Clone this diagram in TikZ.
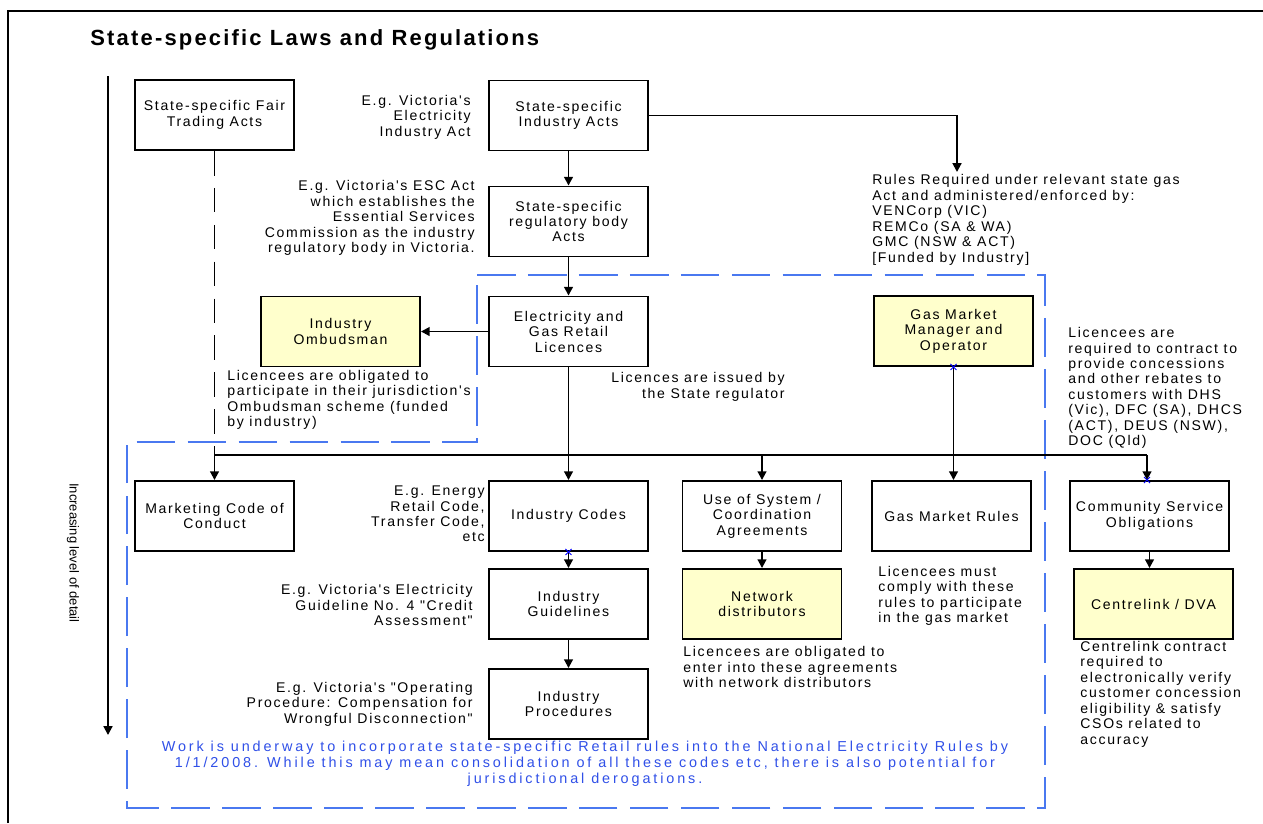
\documentclass[tikz,border=0pt]{standalone}
\usepackage{fontspec}
\setmainfont{Liberation Sans}
\newfontfamily\notefont{Liberation Sans}[LetterSpace=12]
\newfontfamily\headfont{Liberation Sans}[LetterSpace=10]
\newfontfamily\workfont{Liberation Sans}[LetterSpace=20]
\usetikzlibrary{arrows.meta}
\definecolor{boxyellow}{HTML}{FFFFCC}
\definecolor{dashblue}{HTML}{4A78F0}
\definecolor{textblue}{HTML}{3050E8}

\begin{document}
\begin{tikzpicture}[x=0.02cm,y=-0.02cm,
    every node/.style={font=\notefont\fontsize{8}{8.8}\selectfont,inner sep=0pt},
    box/.style={draw,line width=1.1pt,fill=white,align=center,minimum width=3.18cm,minimum height=1.4cm},
    ybox/.style={box,fill=boxyellow},
    noteL/.style={anchor=west,align=left},
    noteR/.style={anchor=east,align=right},
    arr/.style={line width=1.1pt,-{Triangle[length=5pt,width=5pt]}},
    link/.style={line width=1.1pt},
    gapline/.style={line width=1.1pt,dash pattern=on 14pt off 7pt},
    region/.style={dashblue,line width=1.1pt,dash pattern=on 22pt off 7pt}]
    \useasboundingbox (0,0) rectangle (1263,823);
    \fill[white] (0,0) rectangle (1263,823);
    % frame and title
    \draw[line width=1pt] (8,823) -- (8,11) -- (1263,11);
    \node[anchor=west,font=\headfont\bfseries\fontsize{12.5}{14}\selectfont] (title) at (90,40) {State-specific Laws and Regulations};
    % level of detail
    \coordinate (lvtop) at (108,76);
    \coordinate (lvbot) at (108,735);
    \draw[arr] (lvtop) -- (lvbot);
    \node[rotate=-90,font=\fontsize{7.4}{8}\selectfont] (detail) at (73,553) {Increasing level of detail};
    % blue dashed region
    \draw[region] (477,275) -- (1045,275) -- (1045,808) -- (127,808) -- (127,442) -- (477,442) -- cycle;
    % boxes
    \node[box] (fair) at (214.5,115) {State-specific Fair\\Trading Acts};
    \node[box] (indacts) at (568.5,115.5) {State-specific\\Industry Acts};
    \node[box] (regacts) at (568.5,221.5) {State-specific\\regulatory body\\Acts};
    \node[box] (lic) at (568.5,331.5) {Electricity and\\Gas Retail\\Licences};
    \node[ybox] (ombud) at (340.5,331.5) {Industry\\Ombudsman};
    \node[ybox] (gmmo) at (953.5,331) {Gas Market\\Manager and\\Operator};
    \node[box] (mcc) at (214.5,516) {Marketing Code of\\Conduct};
    \node[box] (codes) at (568.5,516) {Industry Codes};
    \node[box] (guide) at (568.5,604) {Industry\\Guidelines};
    \node[box] (proc) at (568.5,704) {Industry\\Procedures};
    \node[box] (uos) at (762,516) {Use of System /\\Coordination\\Agreements};
    \node[ybox] (netd) at (762,604) {Network\\distributors};
    \node[box] (gmr) at (951.5,516) {Gas Market Rules};
    \node[box] (cso) at (1149.5,516) {Community Service\\Obligations};
    \node[ybox] (centre) at (1153.5,604) {Centrelink / DVA};
    % notes
    \node[noteR] (egind) at (471,117) {E.g. Victoria's\\Electricity\\Industry Act};
    \node[noteR] (egesc) at (475,218) {E.g. Victoria's ESC Act\\which establishes the\\Essential Services\\Commission as the industry\\regulatory body in Victoria.};
    \node[noteL] (rules) at (872,220) {Rules Required under relevant state gas\\Act and administered/enforced by:\\VENCorp (VIC)\\REMCo (SA \& WA)\\GMC (NSW \& ACT)\\{[Funded by Industry]}};
    \node[noteR] (issued) at (785,387) {Licences are issued by\\the State regulator};
    \node[noteL] (ombtxt) at (227,400) {Licencees are obligated to\\participate in their jurisdiction's\\Ombudsman scheme (funded\\by industry)};
    \node[noteL] (concess) at (1068,388) {Licencees are\\required to contract to\\provide concessions\\and other rebates to\\customers with DHS\\(Vic), DFC (SA), DHCS\\(ACT), DEUS (NSW),\\DOC (Qld)};
    \node[noteR] (egcode) at (485,514) {E.g. Energy\\Retail Code,\\Transfer Code,\\etc};
    \node[noteR] (egguide) at (473,605) {E.g. Victoria's Electricity\\Guideline No. 4 "Credit\\Assessment"};
    \node[noteR] (egproc) at (473,704) {E.g. Victoria's "Operating\\Procedure: Compensation for\\Wrongful Disconnection"};
    \node[noteL] (agreetxt) at (683,667) {Licencees are obligated to\\enter into these agreements\\with network distributors};
    \node[noteL] (gastxt) at (878,596) {Licencees must\\comply with these\\rules to participate\\in the gas market};
    \node[noteL] (centtxt) at (1080,694) {Centrelink contract\\required to\\electronically verify\\customer concession\\eligibility \& satisfy\\CSOs related to\\accuracy};
    \node[align=center,text=textblue,font=\workfont\fontsize{8.2}{9}\selectfont] (work) at (585,764) {Work is underway to incorporate state-specific Retail rules into the National Electricity Rules by\\1/1/2008. While this may mean consolidation of all these codes etc, there is also potential for\\jurisdictional derogations.};
    % connectors
    \coordinate (rulestop) at (957,172);
    \coordinate (busL) at (214.5,455);
    \coordinate (busR) at (1147,455);
    \draw[arr] (indacts) -- (regacts);
    \draw[arr] (regacts) -- (lic);
    \draw[arr] (indacts.east) -| (rulestop);
    \draw[arr] (lic.west) -- (ombud.east);
    \draw[gapline] (fair.south) -- (busL);
    \draw[link] (busL) -- (busR);
    \draw[arr] (busL) -- (mcc.north);
    \draw[arr] (lic.south) -- (codes.north);
    \draw[arr] (uos.north |- busL) -- (uos.north);
    \draw[arr] (busR) -- (busR |- cso.north);
    \draw[arr] (gmmo.south) -- (gmmo.south |- gmr.north);
    \draw[arr] (codes) -- (guide);
    \draw[arr] (guide) -- (proc);
    \draw[arr] (uos) -- (netd);
    \draw[arr] (cso.south) -- (cso.south |- centre.north);
    % blue connection marks
    \foreach \p in {codes.south, gmmo.south, busR |- cso.north}
        \draw[blue,line width=0.5pt] (\p) +(-3,-3) -- +(3,3) +(-3,3) -- +(3,-3);
\end{tikzpicture}
\end{document}
